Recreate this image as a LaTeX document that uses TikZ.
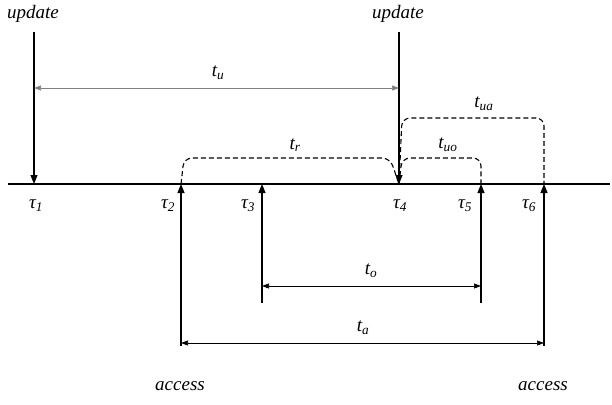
\documentclass[tikz,border=0pt]{standalone}
\usepackage{fontspec}
\setmainfont{Liberation Serif}
\usetikzlibrary{arrows.meta, positioning, calc}

\newcommand{\tsub}[2]{#1\textsubscript{#2}}

\tikzset{
  lbl/.style={font=\itshape\fontsize{19}{22}\selectfont, inner sep=1pt},
  evt/.style={line width=1.1pt, -{Triangle[length=9pt, width=7pt]}},
  span/.style={line width=0.6pt, {Triangle[length=7pt, width=5pt]}-{Triangle[length=7pt, width=5pt]}},
  lag/.style={line width=1.1pt, dashed, dash pattern=on 5pt off 3pt, rounded corners=8pt}
}

\begin{document}
\begin{tikzpicture}[x=1pt, y=-1pt]
  \useasboundingbox (0,0) rectangle (612,404);

  % Time axis and event points
  \coordinate (L) at (8,184);
  \coordinate (R) at (610,184);
  \coordinate (T1) at (34,184);
  \coordinate (T2) at (181,184);
  \coordinate (T3) at (262,184);
  \coordinate (T4) at (399,184);
  \coordinate (T5) at (481,184);
  \coordinate (T6) at (544,184);
  \draw[line width=1.1pt] (L) -- (R);

  % Updates
  \coordinate (U1) at (34,32);
  \coordinate (U4) at (399,32);
  \node[lbl] (upd1) at (33,14) {update};
  \node[lbl] (upd4) at (398,14) {update};
  \draw[evt] (U1) -- (T1);
  \draw[evt] (U4) -- (T4);

  % Accesses
  \coordinate (A2) at (181,346);
  \coordinate (A3) at (262,303);
  \coordinate (A5) at (481,303);
  \coordinate (A6) at (544,346);
  \node[lbl] (acc2) at (180,386) {access};
  \node[lbl] (acc6) at (543,386) {access};
  \foreach \a/\t in {A2/T2, A3/T3, A5/T5, A6/T6}
    \draw[evt] (\a) -- (\t);

  % Tau labels
  \node[lbl] (tau1) at (36,206) {\tsub{τ}{1}};
  \node[lbl] (tau2) at (168,206) {\tsub{τ}{2}};
  \node[lbl] (tau3) at (248,206) {\tsub{τ}{3}};
  \node[lbl] (tau4) at (400,206) {\tsub{τ}{4}};
  \node[lbl] (tau5) at (465,206) {\tsub{τ}{5}};
  \node[lbl] (tau6) at (529,206) {\tsub{τ}{6}};

  % Spans
  \draw[span, gray] (34,88) -- (399,88);
  \node[lbl] (tu) at (218,73) {\tsub{t}{u}};
  \draw[span] (262,286) -- (481,286);
  \node[lbl] (to) at (371,271) {\tsub{t}{o}};
  \draw[span] (181,343) -- (544,343);
  \node[lbl] (ta) at (363,328) {\tsub{t}{a}};

  % Dashed lags
  \draw[lag] (T2) -- (184,158) -- (390,158) -- (T4);
  \node[lbl] (tr) at (295,145) {\tsub{t}{r}};
  \draw[lag] (T4) -- (402,158) -- (481,158) -- (T5);
  \node[lbl] (tuo) at (448,145) {\tsub{t}{uo}};
  \draw[lag] (T4) -- (402,118) -- (544,118) -- (T6);
  \node[lbl] (tua) at (484,104) {\tsub{t}{ua}};
\end{tikzpicture}
\end{document}
